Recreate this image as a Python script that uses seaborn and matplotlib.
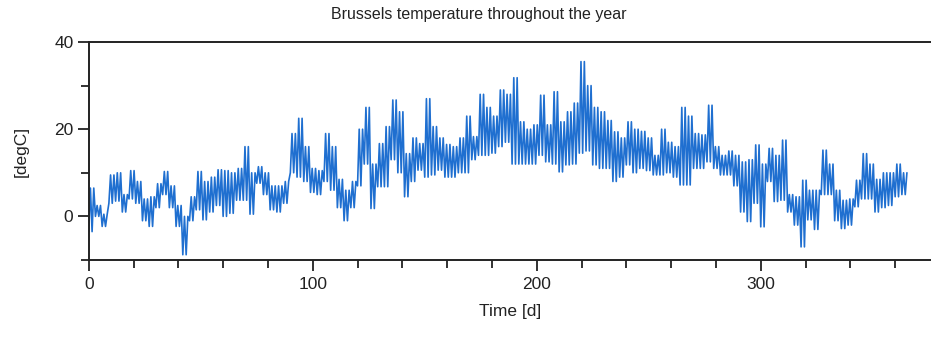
import numpy as np
import pandas as pd
import matplotlib
matplotlib.use("Agg")
import matplotlib.pyplot as plt
import seaborn as sns

# 3-day windows: start day of each window
window_start = np.arange(0, 366, 3)

# low / high temperature reading in each window [degC]
t_low = [-3.5, 0, -2.3, 3, 3.5, 1, 4, 3, -1, -2.3,
         2, 5, 2, -2.3, -8.8, -1, 1.5, -0.8, 1, 2.5,
         0, 0.7, 3.7, 3.7, 0.5, 7.6, 5, 1.5, 1, 3,
         10, 9, 8, 5.5, 5, 8, 6, 2, -1, 2,
         7, 12, 1.8, 6.8, 6.8, 13, 10, 4.5, 8, 10.6,
         9, 9.5, 10.6, 9, 9, 10, 10, 13, 14, 14,
         14.5, 16, 17, 12, 12, 12, 12, 14, 12.5, 12,
         10.2, 11.8, 12, 14.5, 15, 11.8, 11, 11, 8, 9,
         11.8, 10, 11, 10.5, 9.5, 9.5, 10, 9, 7.2, 7.2,
         11, 11, 12.5, 11, 9.5, 9.5, 7, 1, -1.2, 3,
         -2.4, 8, 3.4, 3.7, 1, -2, -7, -0.8, -3, 5,
         5, -1, -2.8, -2, 2.2, 4, 4, 1, 2, 2.5,
         4.5, 5]
t_high = [6.5, 2.5, 0.5, 9.5, 10, 5, 10.5, 8, 4, 4.5,
          7.5, 10.3, 7, 2.5, 0, 4.5, 10.3, 8, 9, 10.7,
          10.5, 10, 11, 16, 10, 11.4, 10, 7, 7, 8,
          19, 22.5, 16, 11, 10.5, 19, 16, 8.5, 6, 8,
          20, 25, 12, 16.7, 20.6, 26.7, 24, 14.4, 18, 16.7,
          27, 20.6, 18, 16.5, 16, 18, 23, 18.3, 28, 25,
          23, 29, 28, 31.8, 21.7, 20, 21, 27.8, 21, 28.6,
          21.7, 24, 26, 35.5, 30, 25, 24, 22, 19.4, 18,
          21.7, 20, 19.5, 18, 14, 20, 17, 16, 25, 23,
          19, 18.7, 25.5, 16, 14, 15, 14, 12.5, 13, 16.4,
          12, 15.6, 14, 17.5, 5, 4.5, 8.3, 6, 6, 15.2,
          12, 6, 3.7, 4, 8.3, 14.4, 12, 8.5, 10, 10,
          12, 10]

x_major = [0, 100, 200, 300]
y_major = [0, 20, 40]

title = "Brussels temperature throughout the year"
xlabel = "Time [d]"
ylabel = "[degC]"

blue = "#1f6fd0"
dark = "#222222"

# ---- assemble series: each window swings low -> high twice ----
lo = np.array(t_low, float)
hi = np.array(t_high, float)
offsets = [0.0, 0.75, 1.5, 2.25]
days = np.concatenate([window_start + o for o in offsets])
temps = np.concatenate([lo, hi, lo, hi])
order = np.argsort(days, kind="stable")
df = pd.DataFrame({"day": days[order], "temp": temps[order]})

sns.set_style("ticks")
plt.rcParams["font.family"] = ["Liberation Sans", "DejaVu Sans"]

fig = plt.figure(figsize=(9.31, 3.38), dpi=100)
ax = fig.add_axes([0.0953, 0.2308, 0.9047, 0.645])

sns.lineplot(data=df, x="day", y="temp", ax=ax, color=blue,
             linewidth=1.2, estimator=None, sort=False)

ax.set_xlim(0, 376)
ax.set_ylim(-10, 40)
ax.set_xticks(x_major)
ax.set_xticks(np.arange(0, 361, 20), minor=True)
ax.set_yticks(y_major)
ax.set_yticks([-10, 10, 30], minor=True)

ax.spines["right"].set_visible(False)
for s in ("left", "bottom", "top"):
    ax.spines[s].set_linewidth(1.4)
    ax.spines[s].set_color(dark)

ax.tick_params(which="major", length=8, width=1.3, color=dark,
               labelsize=12.5, labelcolor=dark)
ax.tick_params(which="minor", length=5.5, width=1.3, color=dark)
ax.tick_params(axis="x", which="major", pad=4)
ax.tick_params(axis="y", which="major", pad=3)

ax.set_xlabel(xlabel, fontsize=12.5, color=dark, labelpad=9)
ax.set_ylabel(ylabel, fontsize=12.5, color=dark)
ax.yaxis.set_label_coords(-0.071, 0.5)

fig.text(478.5 / 931, 1 - 18.5 / 338, title, ha="center", va="baseline",
         fontsize=11.5, color=dark)

fig.savefig("out.png", dpi=100)
